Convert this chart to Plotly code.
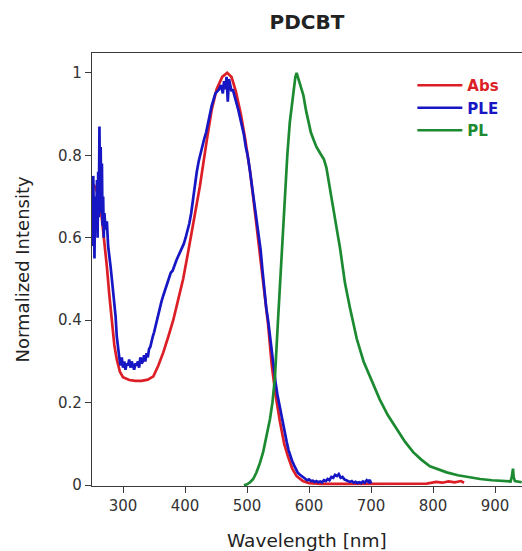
import plotly.graph_objects as go

# ---------------- data ----------------
abs_wl = [250, 254, 258, 262, 266, 270, 274, 278, 282, 286, 290, 295, 300, 310, 320, 330, 340, 349,
          357, 365, 373, 381, 389, 397, 405, 413, 424, 435, 443, 451, 460, 468, 475, 482, 490, 497,
          505, 513, 521, 528, 534, 540, 546, 553, 560, 566, 573, 580, 590, 600, 620, 650, 700, 750,
          790, 805, 815, 825, 835, 845, 850]
abs_val = [0.72, 0.725, 0.712, 0.69, 0.645, 0.595, 0.53, 0.46, 0.39, 0.34, 0.305, 0.275, 0.262, 0.255,
           0.253, 0.253, 0.256, 0.264, 0.29, 0.322, 0.36, 0.40, 0.45, 0.50, 0.565, 0.635, 0.725, 0.835,
           0.91, 0.96, 0.99, 1.0, 0.99, 0.955, 0.9, 0.84, 0.76, 0.66, 0.56, 0.47, 0.39, 0.29, 0.22,
           0.155, 0.10, 0.07, 0.04, 0.022, 0.01, 0.005, 0.003, 0.003, 0.003, 0.003, 0.004, 0.008,
           0.006, 0.009, 0.007, 0.01, 0.006]

ple_wl = [250, 251, 252, 253, 254, 255, 256, 257, 258, 259, 260, 261, 262, 263, 264, 265, 266, 267,
          268, 269, 270, 272, 274, 276, 278, 280, 282, 284, 286, 288, 290, 292, 294, 296, 298, 300,
          302, 304, 306, 308, 310, 312, 314, 316, 318, 320, 322, 324, 326, 328, 330, 332, 334, 336,
          338, 340, 342, 344, 346, 348, 350, 353, 356, 359, 362, 365, 368, 371, 374, 377, 380, 383,
          386, 389, 392, 395, 398, 401, 404, 407, 410, 413, 416, 419, 422, 425, 428, 431, 434, 437,
          440, 443, 446, 449, 452, 455, 458, 461, 463, 465, 467, 469, 471, 473, 475, 477, 480, 483,
          486, 489, 492, 495, 498, 501, 504, 507, 510, 513, 516, 519, 522, 525, 528, 531, 534, 537,
          540, 543, 546, 549, 552, 555, 558, 561, 564, 567, 570, 573, 576, 579, 582, 585, 588, 591,
          594, 597, 600, 603, 606, 609, 612, 615, 618, 621, 624, 627, 630, 633, 636, 639, 642, 645,
          648, 651, 654, 657, 660, 663, 666, 669, 672, 675, 678, 681, 684, 687, 690, 693, 696, 698, 700]
ple_val = [0.68, 0.58, 0.75, 0.60, 0.55, 0.70, 0.62, 0.66, 0.74, 0.60, 0.76, 0.65, 0.87, 0.70, 0.82,
           0.66, 0.78, 0.63, 0.70, 0.60, 0.66, 0.62, 0.64, 0.58, 0.56, 0.53, 0.50, 0.47, 0.45, 0.41,
           0.36, 0.33, 0.31, 0.29, 0.31, 0.285, 0.30, 0.28, 0.295, 0.29, 0.305, 0.285, 0.30, 0.29,
           0.28, 0.295, 0.29, 0.30, 0.285, 0.31, 0.295, 0.30, 0.315, 0.30, 0.32, 0.31, 0.33, 0.335,
           0.35, 0.36, 0.37, 0.39, 0.41, 0.43, 0.445, 0.46, 0.475, 0.49, 0.50, 0.515, 0.52, 0.535,
           0.545, 0.555, 0.565, 0.575, 0.585, 0.60, 0.615, 0.635, 0.66, 0.695, 0.73, 0.76, 0.785, 0.805,
           0.825, 0.84, 0.855, 0.88, 0.90, 0.92, 0.935, 0.95, 0.955, 0.96, 0.97, 0.95, 0.98, 0.96, 0.99,
           0.93, 0.985, 0.97, 0.955, 0.96, 0.945, 0.93, 0.91, 0.89, 0.87, 0.85, 0.82, 0.80, 0.77,
           0.735, 0.70, 0.67, 0.635, 0.60, 0.57, 0.52, 0.47, 0.43, 0.40, 0.36, 0.32, 0.285, 0.25,
           0.22, 0.195, 0.17, 0.145, 0.125, 0.105, 0.085, 0.07, 0.058, 0.048, 0.04, 0.03, 0.026,
           0.022, 0.018, 0.015, 0.012, 0.014, 0.01, 0.011, 0.008, 0.01, 0.007, 0.009, 0.007, 0.012,
           0.01, 0.015, 0.012, 0.02, 0.018, 0.025, 0.022, 0.027, 0.018, 0.02, 0.014, 0.012, 0.01,
           0.008, 0.01, 0.006, 0.008, 0.005, 0.007, 0.005, 0.009, 0.006, 0.012, 0.008, 0.013, 0.004]

pl_wl = [495, 500, 505, 510, 515, 520, 526, 531, 537, 541, 545, 550, 553, 556, 561, 565, 569, 574,
         578, 580, 583, 587, 591, 595, 599, 603, 608, 612, 618, 624, 628, 634, 640, 646, 650, 658,
         666, 677, 688, 701, 714, 727, 741, 755, 768, 781, 795, 808, 822, 840, 858, 876, 895, 915,
         925, 927, 928, 929, 930, 932, 943]
pl_val = [0.0, 0.002, 0.007, 0.015, 0.03, 0.05, 0.08, 0.115, 0.16, 0.2, 0.26, 0.40, 0.48, 0.57, 0.70,
          0.80, 0.88, 0.95, 0.99, 1.0, 0.985, 0.965, 0.945, 0.91, 0.88, 0.855, 0.835, 0.82, 0.805,
          0.79, 0.77, 0.72, 0.67, 0.61, 0.575, 0.49, 0.43, 0.355, 0.30, 0.255, 0.208, 0.17, 0.136,
          0.105, 0.08, 0.062, 0.046, 0.038, 0.031, 0.024, 0.019, 0.015, 0.012, 0.010, 0.009, 0.02,
          0.035, 0.04, 0.02, 0.01, 0.007]

x_ticks = [300, 400, 500, 600, 700, 800, 900]
y_ticks = [0, 0.2, 0.4, 0.6, 0.8, 1]
y_tick_text = ["0", "0.2", "0.4", "0.6", "0.8", "1"]

RED = "#dc1f26"
BLUE = "#1616c4"
GREEN = "#1c8a30"
AX = "#3a3a3a"
FONT = "DejaVu Sans, Arial, sans-serif"

fig = go.Figure()
fig.add_trace(go.Scatter(x=abs_wl, y=abs_val, mode="lines", line=dict(color=RED, width=2.7),
                         name="<b><span style='color:%s'>Abs</span></b>" % RED))
fig.add_trace(go.Scatter(x=ple_wl, y=ple_val, mode="lines", line=dict(color=BLUE, width=2.7),
                         name="<b><span style='color:%s'>PLE</span></b>" % BLUE))
fig.add_trace(go.Scatter(x=pl_wl, y=pl_val, mode="lines", line=dict(color=GREEN, width=2.7),
                         name="<b><span style='color:%s'>PL</span></b>" % GREEN))

fig.update_layout(
    width=522, height=551,
    margin=dict(l=92, r=0, t=53, b=65),
    paper_bgcolor="white", plot_bgcolor="white",
    font=dict(family=FONT, size=15, color=AX),
    title=dict(text="<b>PDCBT</b>", x=(92 + 522) / 2 / 522, xanchor="center",
               y=1 - 22 / 551, yanchor="middle", font=dict(size=20, color="#222222")),
    showlegend=True,
    legend=dict(x=0.745, y=0.963, xanchor="left", yanchor="top", bgcolor="rgba(0,0,0,0)",
                font=dict(size=15, family=FONT), tracegroupgap=0, itemwidth=45),
    xaxis=dict(range=[250, 943.5], tickvals=x_ticks, ticks="outside", ticklen=6, tickwidth=1.2,
               tickcolor=AX, showline=True, linecolor=AX, linewidth=1.3, mirror=True,
               showgrid=False, zeroline=False, tickfont=dict(size=15, color="#333333")),
    yaxis=dict(range=[-0.002, 1.048], tickvals=y_ticks, ticktext=y_tick_text, ticks="outside",
               ticklen=6, tickwidth=1.2, tickcolor=AX, showline=True, linecolor=AX, linewidth=1.3,
               showgrid=False, zeroline=False, tickfont=dict(size=15, color="#333333")),
    annotations=[
        dict(text="Wavelength [nm]", xref="paper", yref="paper", x=0.5, y=0, yshift=-54,
             xanchor="center", yanchor="middle", showarrow=False,
             font=dict(size=18.5, color="#222222")),
        dict(text="Normalized Intensity", xref="paper", yref="paper", x=0, y=0.5, xshift=-70,
             xanchor="center", yanchor="middle", textangle=-90, showarrow=False,
             font=dict(size=18, color="#222222")),
    ],
)

fig.write_html("out.html")
